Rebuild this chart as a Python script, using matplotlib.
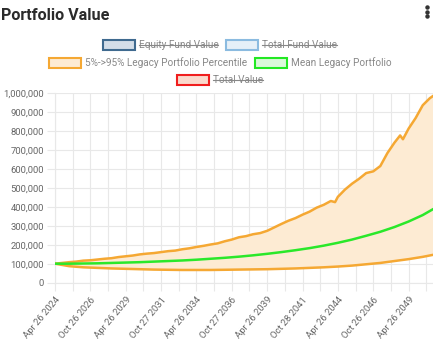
import numpy as np
import matplotlib
matplotlib.use("Agg")
import matplotlib.pyplot as plt
from matplotlib.patches import Rectangle
from matplotlib.lines import Line2D

plt.rcParams['font.family'] = ['Roboto', 'DejaVu Sans']

# data (values in dollars, x in years since Apr 26 2024)
upper_years = [0, 0.5, 1.0, 1.5, 2.0, 2.5, 3.0, 3.5, 4.0, 4.5, 5.0, 5.5, 6.0, 6.5, 7.0,
               7.5, 8.0, 8.5, 9.0, 9.5, 10.0, 10.5, 11.0, 11.5, 12.0, 12.5, 13.0, 13.5,
               14.0, 14.5, 15.0, 15.5, 16.0, 16.5, 17.0, 17.5, 18.0, 18.5, 19.0, 19.5,
               19.8, 20.0, 20.5, 21.0, 21.5, 22.0, 22.5, 23.0, 23.5, 24.0, 24.4, 24.6,
               25.0, 25.5, 26.0, 26.5, 26.75]
upper_k = [100, 104, 108, 111, 116, 118, 122, 126, 129, 135, 139, 143, 149, 153, 156,
           161, 166, 169, 176, 181, 188, 194, 201, 207, 218, 227, 239, 245,
           255, 261, 273, 291, 309, 326, 340, 358, 374, 395, 410, 430,
           424, 452, 490, 521, 547, 577, 586, 614, 682, 737, 775, 755,
           811, 867, 934, 971, 984]

years = [0, 1, 2, 3, 4, 5, 6, 7, 8, 9, 10, 11, 12, 13, 14, 15, 16, 17, 18, 19, 20,
         21, 22, 23, 24, 25, 26, 26.75]
mean_k = [100, 100, 101, 102, 104, 106, 108, 111, 114, 117, 121, 126, 131, 137, 144,
          152, 161, 171, 182, 195, 210, 227, 247, 268, 293, 322, 356, 388]
lower_k = [100, 87, 81, 78, 75, 73, 71, 69, 68, 67, 67, 67, 68, 69, 70, 71, 73, 75,
           78, 81, 85, 90, 97, 104, 114, 124, 136, 147]

tick_years = [0, 2.5, 5, 7.5, 10, 12.5, 15, 17.5, 20, 22.5, 25]
tick_labels = ["Apr 26 2024", "Oct 26 2026", "Apr 26 2029", "Oct 27 2031",
               "Apr 26 2034", "Oct 27 2036", "Apr 26 2039", "Oct 28 2041",
               "Apr 26 2044", "Oct 26 2046", "Apr 26 2049"]

legend_items = [
    ("Equity Fund Value", "#3f6a8f", "#d3dde8", True),
    ("Total Fund Value", "#8bbbe0", "#e6f0f8", True),
    ("5%->95% Legacy Portfolio Percentile", "#f5a833", "#fdebd3", False),
    ("Mean Legacy Portfolio", "#22e822", "#d9f9d9", False),
    ("Total Value", "#f01e1e", "#fad9cc", True),
]

W, H = 433, 341
fig = plt.figure(figsize=(W / 100, H / 100), dpi=100)

def fx(px):
    return px / W

def fy(py):
    return 1 - py / H

ax = fig.add_axes([fx(55), fy(282.7), fx(433 - 55), (282.7 - 92.7) / H])

up = np.array(upper_k) * 1000
mn = np.array(mean_k) * 1000
lo = np.array(lower_k) * 1000
orange = "#f5a833"

ax.fill(np.r_[upper_years, years[::-1]], np.r_[up, lo[::-1]],
        color="#fdebd3", lw=0, zorder=1)
ax.plot(upper_years, up, color=orange, lw=1.8, zorder=3, solid_capstyle="round")
ax.plot(years, lo, color=orange, lw=1.8, zorder=3, solid_capstyle="round")
ax.plot(years, mn, color="#2ae82a", lw=1.8, zorder=4, solid_capstyle="round")

ax.set_xlim(0, (433 - 55) / 17.68 * 1.25)
ax.set_ylim(0, 1000000)
ax.set_yticks(np.arange(0, 1000001, 100000))
ax.set_yticklabels([f"{v:,}" for v in range(0, 1000001, 100000)])
ax.set_xticks(np.arange(0, 26.5, 1.25), minor=True)
ax.set_xticks(tick_years)
ax.set_xticklabels(tick_labels, rotation=50, ha="right", va="top",
                   rotation_mode="anchor")

grid_c = "#e8e8e8"
ax.grid(True, which="both", color=grid_c, lw=0.8, zorder=0)
ax.set_axisbelow(True)
ax.tick_params(axis="both", which="both", length=6, color=grid_c, width=0.8,
               labelsize=6.8, labelcolor="#666666")
ax.tick_params(axis="x", pad=3)
ax.tick_params(axis="y", pad=2)
for s in ["top", "right"]:
    ax.spines[s].set_visible(False)
for s in ["left", "bottom"]:
    ax.spines[s].set_color(grid_c)
    ax.spines[s].set_linewidth(0.8)

# title and menu dots
fig.text(fx(1), fy(15), "Portfolio Value", fontsize=11.6, weight="semibold",
         color="#2b2b2b", va="center", ha="left")
fig.add_artist(Line2D([fx(427)] * 3, [fy(7), fy(11.5), fy(16)], lw=0, marker="o",
                      markersize=2.2, color="#333333", transform=fig.transFigure))

# legend drawn by hand so the rows sit where the chart.js legend puts them
rows = [[0, 1], [2, 3], [4]]
row_y = [45, 62.5, 80]
box_w, box_h, gap_box, gap_item = 32, 10, 4, 8
leg_fs = 7.2
leg_c = "#888888"
fig.canvas.draw()
renderer = fig.canvas.get_renderer()
for r, items in enumerate(rows):
    widths = []
    for i in items:
        t = fig.text(0, 0, legend_items[i][0], fontsize=leg_fs, color=leg_c)
        w = t.get_window_extent(renderer).width
        t.remove()
        widths.append(w)
    total = sum(box_w + gap_box + w for w in widths) + gap_item * (len(items) - 1)
    x = 220 - total / 2
    y = row_y[r]
    for i, w in zip(items, widths):
        label, edge, face, hidden = legend_items[i]
        fig.add_artist(Rectangle((fx(x), fy(y + box_h / 2)), box_w / W, box_h / H,
                                 transform=fig.transFigure, facecolor=face,
                                 edgecolor=edge, lw=1.5))
        tx = x + box_w + gap_box
        fig.text(fx(tx), fy(y), label, fontsize=leg_fs, color=leg_c,
                 va="center", ha="left")
        if hidden:
            fig.add_artist(Line2D([fx(tx), fx(tx + w)], [fy(y), fy(y)],
                                  transform=fig.transFigure, color=leg_c, lw=0.8))
        x = tx + w + gap_item

fig.savefig("out.png", dpi=100)
